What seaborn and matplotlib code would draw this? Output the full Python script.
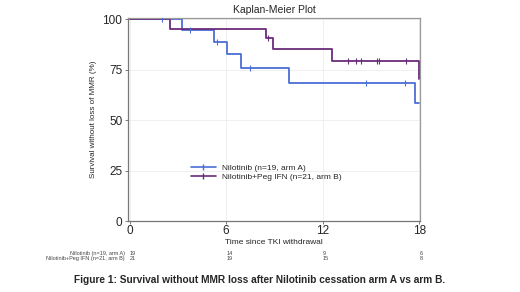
import matplotlib
matplotlib.use('Agg')
import matplotlib.pyplot as plt
from matplotlib.lines import Line2D
import pandas as pd
import seaborn as sns

# Kaplan-Meier steps
arm_a_time = [0, 3.25, 5.25, 6.05, 6.9, 9.9, 17.7, 18]
arm_a_surv = [100, 94.7, 88.8, 82.6, 75.7, 68.3, 58.4, 58.4]
arm_a_cens_time = [2.0, 3.75, 5.45, 7.5, 14.7, 17.1]
arm_a_cens_surv = [100, 94.7, 88.8, 75.7, 68.3, 68.3]

arm_b_time = [0, 2.5, 8.5, 8.9, 12.6, 17.95, 18]
arm_b_surv = [100, 95.2, 90.5, 85.0, 79.2, 70.5, 70.5]
arm_b_cens_time = [8.6, 13.55, 14.05, 14.4, 15.4, 15.5, 17.2]
arm_b_cens_surv = [90.5, 79.2, 79.2, 79.2, 79.2, 79.2, 79.2]

labels = ['Nilotinib (n=19, arm A)', 'Nilotinib+Peg IFN (n=21, arm B)']
risk_times = [0, 6, 12, 18]
risk_a = [19, 14, 9, 6]
risk_b = [21, 19, 15, 8]

blue = '#4a70d6'
purple = '#6b2c7c'

sns.set_style('white')
plt.rcParams['font.family'] = ['Liberation Sans', 'DejaVu Sans']

fig = plt.figure(figsize=(5.2, 2.92), dpi=100)
ax = fig.add_axes([0.246, 0.243, 0.562, 0.695])

df_a = pd.DataFrame({'t': arm_a_time, 's': arm_a_surv})
df_b = pd.DataFrame({'t': arm_b_time, 's': arm_b_surv})
sns.lineplot(data=df_a, x='t', y='s', ax=ax, color=blue, lw=1.3,
             drawstyle='steps-post', legend=False)
sns.lineplot(data=df_b, x='t', y='s', ax=ax, color=purple, lw=1.3,
             drawstyle='steps-post', legend=False)
ax.scatter(arm_a_cens_time, arm_a_cens_surv, marker='|', s=22, color=blue, lw=0.8, zorder=3)
ax.scatter(arm_b_cens_time, arm_b_cens_surv, marker='|', s=22, color=purple, lw=0.8, zorder=3)

ax.set_xlim(-0.1, 18.05)
ax.set_ylim(0, 100.5)
ax.set_xticks(risk_times)
ax.set_yticks([0, 25, 50, 75, 100])
ax.grid(True, color='#ececec', lw=0.6)
ax.tick_params(axis='both', labelsize=8.5, length=2.5, width=0.6, color='#666666', pad=1.5)
ax.tick_params(axis='x', pad=0)
ax.xaxis.set_ticks_position('bottom')
ax.yaxis.set_ticks_position('left')
for sp in ax.spines.values():
    sp.set_color('#999999')
    sp.set_linewidth(0.9)
ax.spines['left'].set_color('#777777')
ax.spines['bottom'].set_color('#777777')

ax.set_title('Kaplan-Meier Plot', fontsize=7.5, pad=4)
ax.set_xlabel('Time since TKI withdrawal', fontsize=6, labelpad=1.5)
ax.set_ylabel('Survival without loss of MMR (%)', fontsize=5.8, labelpad=4)

handles = [Line2D([], [], color=blue, lw=1.2, marker='|', markersize=5),
           Line2D([], [], color=purple, lw=1.2, marker='|', markersize=5)]
ax.legend(handles, labels, loc='upper left', bbox_to_anchor=(0.2, 0.30), frameon=False,
          fontsize=6, handlelength=3, handletextpad=0.8, labelspacing=0.1, borderpad=0)

# numbers at risk table
for row, (lab, vals) in enumerate(zip(labels, [risk_a, risk_b])):
    yy = -0.158 - row * 0.025
    ax.text(-0.01, yy, lab, transform=ax.transAxes, ha='right', va='center',
            fontsize=4, color='#444444')
    for t, v in zip(risk_times, vals):
        ax.text(t, yy, str(v), transform=ax.get_xaxis_transform(), ha='left', va='center',
                fontsize=4, color='#444444')

fig.text(0.5, 0.04, 'Figure 1: Survival without MMR loss after Nilotinib cessation arm A vs arm B.',
         ha='center', va='center', fontsize=7.3, fontweight='bold')

fig.savefig('out.png', dpi=100)
